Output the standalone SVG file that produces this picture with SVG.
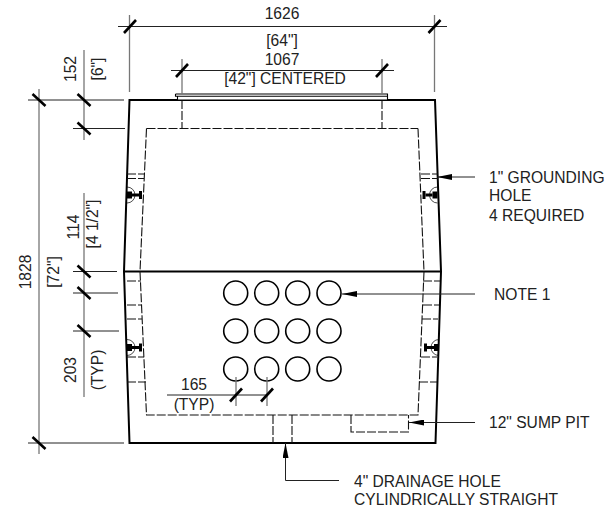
<svg xmlns="http://www.w3.org/2000/svg" width="615" height="509" viewBox="0 0 615 509">
<style>
text{font-family:"Liberation Sans",Arial,sans-serif;font-size:15.6px;fill:#222}
.m{text-anchor:middle}
.dim{stroke:#222;stroke-width:1;fill:none}
.ext{stroke:#777;stroke-width:1.3;fill:none}
.tick{stroke:#000;stroke-width:2.6;fill:none}
.wall{stroke:#000;stroke-width:2;fill:none}
.hid{stroke:#111;stroke-width:1.1;fill:none;stroke-dasharray:9 2}
.hole{stroke:#000;stroke-width:1.6;fill:#fff}
.lead{stroke:#222;stroke-width:1;fill:none}
.thin{stroke:#000;stroke-width:.7;fill:none}
</style>
<defs>
<marker id="ah" viewBox="0 0 15 6" refX="15" refY="3" markerWidth="15" markerHeight="6" markerUnits="userSpaceOnUse" orient="auto"><path d="M0 0L15 3L0 6Z" fill="#000"/></marker>
<g id="tk"><line class="tick" x1="-6" y1="6.500" x2="6" y2="-6.500"/></g>
<g id="tkb"><line class="tick" x1="-6.500" y1="-6" x2="6.500" y2="6"/></g>
<g id="anchorL">
<path d="M127 -8A8 8 0 0 1 127 8" class="thin"/>
<rect x="127" y="-3.500" width="5" height="7" fill="#000"/><rect x="132" y="-1.500" width="7" height="3" fill="#000"/><rect x="139" y="-4" width="3" height="8" fill="#000"/>
</g>
</defs>
<g id="vault">
<path class="wall" d="M129.500 100H435L441 271.500L435.500 443H129.500L124 271.500Z"/>
<line x1="124" y1="271.500" x2="441" y2="271.500" stroke="#000" stroke-width="2.200"/>
<path class="hid" d="M146.500 128.500L140 271.500L146.500 415H418L424 271.500L418 128.500"/>
<path class="hid" d="M146.500 128.500H418"/>
<path class="hid" d="M182 100V128.500M382 100V128.500"/>
</g>
<g id="lid"><path d="M175.500 94H387.500V100H177.500V96.300H387.500M175.500 94V96.300H177.500" fill="#fff" stroke="#000" stroke-width="1.100"/></g>
<g id="ribs">
<path class="hid" d="M127 174H144M127 178.500H144M127 281H141M127 305H141M127 319H142M127 357H144M127 382H146"/>
<path class="hid" d="M421 174H438M421 178.500H438M423 281H440M423 305H439M422 319H438M421 357H437M419 382H437"/>
</g>
<g id="anchors">
<use href="#anchorL" transform="translate(0 195)"/>
<use href="#anchorL" transform="translate(0 347.500)"/>
<use href="#anchorL" transform="matrix(-1 0 0 1 564.500 195)"/>
<use href="#anchorL" transform="matrix(-1 0 0 1 566 347.500)"/>
</g>
<g id="holes">
<circle class="hole" cx="235.700" cy="293" r="12"/><circle class="hole" cx="266.700" cy="293" r="12"/><circle class="hole" cx="297.700" cy="293" r="12"/><circle class="hole" cx="329" cy="293" r="12"/>
<circle class="hole" cx="235.700" cy="331" r="12"/><circle class="hole" cx="266.700" cy="331" r="12"/><circle class="hole" cx="297.700" cy="331" r="12"/><circle class="hole" cx="329" cy="331" r="12"/>
<circle class="hole" cx="235.700" cy="369" r="12"/><circle class="hole" cx="266.700" cy="369" r="12"/><circle class="hole" cx="297.700" cy="369" r="12"/><circle class="hole" cx="329" cy="369" r="12"/>
</g>
<g id="sump"><path class="hid" d="M351 415V432H408.500V415"/></g>
<g id="drain"><path class="hid" d="M273 415V443M292 415V443"/></g>
<g id="connectors">
<path class="dim" d="M118 26.500H447M171 70.500H394M28 100H124M73 128.500H125M28 443H124M73 271.500H117M73 293H118M73 331H119M167 395H267"/>
<path class="ext" d="M129.500 15V92M434.500 15V92M182 59V94M382 59V94M39 89V454M84 50V140M84 193V397M236 377V406M267 377V406"/>
<use href="#tk" x="130" y="26.500"/><use href="#tk" x="434.500" y="26.500"/><use href="#tk" x="182" y="70.500"/><use href="#tk" x="382" y="70.500"/>
<use href="#tk" x="236" y="395"/><use href="#tk" x="267" y="395"/>
<use href="#tkb" x="39" y="100"/><use href="#tkb" x="39" y="443"/><use href="#tkb" x="84" y="100"/><use href="#tkb" x="84" y="128.500"/><use href="#tkb" x="84" y="271.500"/><use href="#tkb" x="84" y="293"/><use href="#tkb" x="84" y="331"/>
<path class="lead" d="M475 177H437" marker-end="url(#ah)"/>
<path class="lead" d="M475 294H342" marker-end="url(#ah)"/>
<path class="lead" d="M475 422.500H409" marker-end="url(#ah)"/>
<path class="lead" d="M339 480.500H285.500V443" marker-end="url(#ah)"/>
</g>
<g id="labels">
<text class="m" x="282" y="19">1626</text>
<text class="m" x="282" y="46">[64"]</text>
<text class="m" x="282" y="65">1067</text>
<text class="m" x="285" y="84">[42"] CENTERED</text>
<text class="m" transform="translate(76 69) rotate(-90)">152</text>
<text class="m" transform="translate(103 69) rotate(-90)">[6"]</text>
<text class="m" transform="translate(79 227) rotate(-90)">114</text>
<text class="m" transform="translate(98 224) rotate(-90)">[4 1/2"]</text>
<text class="m" transform="translate(31 272) rotate(-90)">1828</text>
<text class="m" transform="translate(59 272) rotate(-90)">[72"]</text>
<text class="m" transform="translate(76 370) rotate(-90)">203</text>
<text class="m" transform="translate(103 370) rotate(-90)">(TYP)</text>
<text class="m" x="194" y="390">165</text>
<text class="m" x="194" y="410">(TYP)</text>
<text x="489" y="183">1" GROUNDING</text>
<text x="489" y="201">HOLE</text>
<text x="489" y="221">4 REQUIRED</text>
<text x="494" y="300">NOTE 1</text>
<text x="489" y="428">12" SUMP PIT</text>
<text x="354" y="487">4" DRAINAGE HOLE</text>
<text x="354" y="505">CYLINDRICALLY STRAIGHT</text>
</g>
</svg>
